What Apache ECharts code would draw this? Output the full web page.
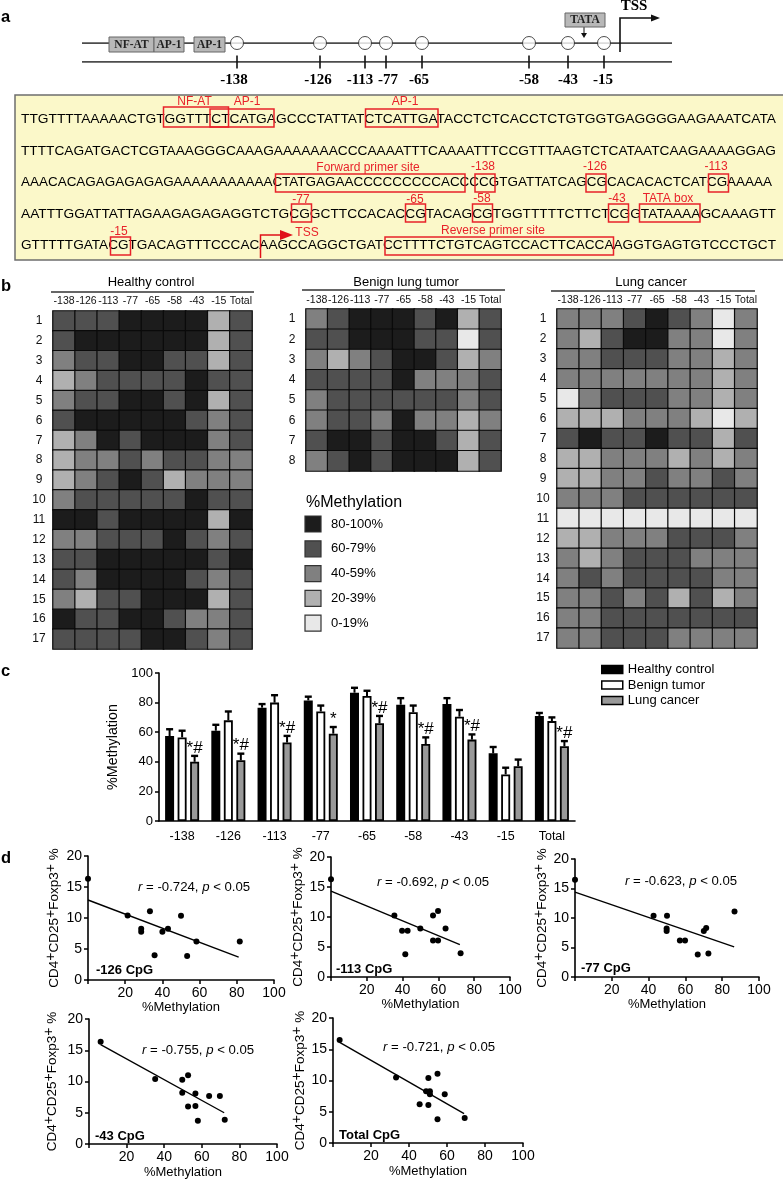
<!DOCTYPE html>
<html><head><meta charset="utf-8">
<style>html,body{margin:0;padding:0;background:#fff}#c{width:783px;height:1180px}</style>
<script src="https://cdn.jsdelivr.net/npm/echarts@6/dist/echarts.min.js"></script></head>
<body><div id="c"></div>
<script>
const SANS='"Liberation Sans",Arial,sans-serif', SERIF='"Liberation Serif",serif';
// ---------- panel a
const seqLines=[
'TTGTTTTAAAAACTGTGGTTTCTCATGAGCCCTATTATCTCATTGATACCTCTCACCTCTGTGGTGAGGGGAAGAAATCATA',
'TTTTCAGATGACTCGTAAAGGGCAAAGAAAAAAACCCAAAATTTCAAAATTTCCGTTTAAGTCTCATAATCAAGAAAAGGAG',
'AAACACAGAGAGAGAGAAAAAAAAAAACTATGAGAACCCCCCCCCACCCCGTGATTATCAGCGCACACACTCATCGAAAAA',
'AATTTGGATTATTAGAAGAGAGAGGTCTGCGGCTTCCACACCGTACAGCGTGGTTTTTCTTCTCGGTATAAAAGCAAAGTT',
'GTTTTTGATACGTGACAGTTTCCCACAAGCCAGGCTGATCCTTTTCTGTCAGTCCACTTCACCAAGGTGAGTGTCCCTGCT'];
const sitePos=[237,320,365,386,422,529,568,604];
const siteNames=['-138','-126','-113','-77','-65','-58','-43','-15'];
const siteLabelX=[234,318,360,388,419,529,568,603];
const redBoxes=[[163.5,107,65,20],[210,109,64,18],[365.5,109,72.5,18],[275.5,174,189.5,18],[475,174,20,18],[586,174,20,18],[708.5,174,20,18],
 [291.5,204,20,18],[405.5,204,20,18],[472.5,204,20,18],[608.5,204,20,18],[639.5,204,60.5,18],[110.5,237,20,18],[385,237,228.5,18]];
const redLabels=[['NF-AT',194.5,102],['AP-1',247,102],['AP-1',405,102],['Forward primer site',368,168],['-138',483,167],['-126',595,167],['-113',716,167],
 ['-77',301,200],['-65',415,200],['-58',482,199],['-43',617,199],['TATA box',668,199],['-15',119,232],['TSS',307,233],['Reverse primer site',493,231]];
// ---------- panel b
const cpgCols=['-138','-126','-113','-77','-65','-58','-43','-15','Total'];
const healthy=[
[70,70,70,90,90,90,90,30,70],[70,90,90,90,90,90,90,30,70],[50,70,70,90,90,70,70,30,70],[30,50,70,70,70,70,90,70,70],
[50,70,70,90,90,70,90,30,70],[70,90,90,90,90,90,70,50,70],[30,50,90,70,90,90,90,50,70],[30,50,50,70,50,70,70,50,50],
[30,50,70,90,70,30,50,50,50],[50,70,70,70,70,70,90,70,70],[90,90,70,90,90,90,90,30,90],[50,50,70,70,70,90,70,50,70],
[70,70,90,90,90,90,90,70,90],[70,50,90,90,90,90,70,50,70],[50,30,70,70,90,90,90,30,70],[90,70,70,90,90,70,50,50,70],
[70,70,70,70,90,90,70,50,70]];
const benign=[
[50,70,90,90,90,70,90,30,70],[70,70,90,90,90,70,70,10,70],[50,30,50,70,90,90,70,30,50],[70,70,70,70,90,50,50,50,70],
[50,70,70,70,70,70,70,50,70],[50,70,70,50,90,50,50,30,50],[70,90,90,70,90,90,70,30,70],[50,70,90,70,90,90,90,30,70]];
const cancer=[
[50,50,50,70,90,70,50,10,50],[50,30,70,90,90,50,50,10,50],[50,50,70,70,70,50,50,30,50],[50,50,50,50,50,50,50,30,50],
[10,50,70,70,70,50,50,30,50],[30,30,30,50,50,50,30,10,30],[70,90,70,70,90,70,70,30,70],[30,30,50,50,50,30,50,30,50],
[30,30,50,50,70,50,50,70,50],[50,50,50,70,70,70,70,70,70],[10,10,10,10,10,10,10,10,10],[30,30,50,50,50,70,70,70,50],
[50,30,50,70,70,70,50,50,50],[50,70,50,70,70,70,70,50,50],[50,50,70,50,70,30,70,30,50],[50,50,70,70,70,70,70,70,70],
[50,50,70,70,70,50,50,50,50]];
const legendLabels=['80-100%','60-79%','40-59%','20-39%','0-19%'];
const legendColors=['#1c1c1c','#505050','#808080','#b0b0b0','#e8e8e8'];
// ---------- panel c
const barHealthy=[57.4,61,76.6,81.5,86.7,78.6,79,45.7,71];
const errHealthy=[62,65,79,84,90,83,83,50,73];
const barBenign=[56.5,68,80,74,84.5,73.5,70.5,31.5,67.5];
const errBenign=[61,74,85,78,88,78,75,36,70];
const barCancer=[40,41,53,59,66,52,55,37,50.5];
const errCancer=[44,45.5,57.5,63.5,71,56.5,58.5,41.5,54];
const sig=['*#','*#','*#','*','*#','*#','*#','','*#'];
// ---------- panel d
const sc126=[[0,16.35],[21.3,10.4],[33.3,11.1],[50,10.35],[28.6,8.26],[28.6,7.8],[40,7.8],[43,8.26],[58.3,6.2],[81.6,6.2],[35.8,4],[53.3,3.86]];
const fit126=[[0,12.9],[81,3.7]];
const sc113=[[0,16.3],[35.4,10.25],[57,10.25],[59.8,11],[39.7,7.7],[42.8,7.7],[49.9,8.1],[64,8.1],[57,6.1],[59.8,6.1],[41.5,3.8],[72.4,3.96]];
const fit113=[[0,14.3],[72,5.4]];
const sc77=[[0,16.5],[42.7,10.4],[50,10.4],[86.7,11.1],[49.8,8.2],[49.8,7.8],[70,7.8],[71.3,8.3],[57,6.2],[59.8,6.2],[66.7,3.8],[72.5,4]];
const fit77=[[0,14.4],[86.5,5.1]];
const sc43=[[6.2,16.36],[35.2,10.4],[49.6,10.3],[52.7,11],[49.6,8.2],[56.6,8.1],[63.9,7.7],[69.6,7.7],[52.7,6],[56.6,6.1],[57.9,3.74],[72.2,3.9]];
const fit43=[[6.2,15.9],[71.9,5]];
const scTot=[[3.5,16.5],[33.2,10.5],[50.2,10.4],[55,11.1],[49,8.3],[51,8.3],[51,7.8],[58.8,7.8],[45.6,6.2],[50.2,6.1],[55,3.8],[69.3,4]];
const fitTot=[[3.5,16.1],[69,4.7]];

const grid=[],xAxis=[],yAxis=[],series=[],graphic=[];
const T=(text,x,y,o={})=>graphic.push({type:'text',x,y,z:o.z||20,rotation:o.rot||0,style:Object.assign({text,fill:'#000',font:`${o.w||'normal'} ${o.s||12}px ${o.f||SANS}`,align:o.a||'center',verticalAlign:'middle'},o.st||{})});
const L=(x1,y1,x2,y2,c='#000',w=1,z=5)=>graphic.push({type:'line',z,shape:{x1,y1,x2,y2},style:{stroke:c,lineWidth:w}});
const R=(x,y,w,h,fill,stroke,lw=1,z=15)=>graphic.push({type:'rect',z,shape:{x,y,width:w,height:h},style:{fill,stroke,lineWidth:lw}});

// panel a – schematic drawn on a hidden position axis
grid.push({left:0,width:783,top:43,height:19});
xAxis.push({type:'value',gridIndex:0,min:0,max:783,show:false});
yAxis.push({type:'value',gridIndex:0,min:0,max:1,show:false});
const hid={xAxisIndex:0,yAxisIndex:0,silent:true,animation:false};
series.push(Object.assign({type:'line',data:[[82,1],[672,1]],symbol:'none',lineStyle:{color:'#111',width:1.6},z:2},hid));
series.push(Object.assign({type:'line',data:[[82,0],[672,0]],symbol:'none',lineStyle:{color:'#111',width:1.6},z:2},hid));
series.push(Object.assign({type:'scatter',data:sitePos.map(p=>[p,1]),symbolSize:13,itemStyle:{color:'#fff',borderColor:'#222',borderWidth:1},z:3},hid));
series.push(Object.assign({type:'scatter',data:sitePos.map(p=>[p,0]),symbol:'rect',symbolSize:[2,13],itemStyle:{color:'#111'},z:3},hid));
siteNames.forEach((n,i)=>T(n,siteLabelX[i],80,{f:SERIF,w:'bold',s:15}));
[[109,37,45,15,'NF-AT'],[154,37,30,15,'AP-1'],[194,37,31,15,'AP-1'],[565,13,40,14,'TATA']].forEach(b=>{
  R(b[0],b[1],b[2],b[3],'#b8b8b8','#666',1);
  T(b[4],b[0]+b[2]/2,b[1]+b[3]/2+.5,{f:SERIF,w:'bold',s:11.5,st:{fill:'#222'}});
});
L(584,27,584,34,'#111',1);
graphic.push({type:'polygon',z:15,shape:{points:[[581,33],[587,33],[584,38]]},style:{fill:'#111'}});
graphic.push({type:'polyline',z:15,shape:{points:[[620,52],[620,18],[652,18]]},style:{stroke:'#111',lineWidth:1.6,fill:null}});
graphic.push({type:'polygon',z:15,shape:{points:[[651,14.5],[660,18],[651,21.5]]},style:{fill:'#111'}});
T('TSS',634,6,{f:SERIF,w:'bold',s:15});
R(15,95,769,165,'#fbf8c9','#6e6e6e',1.5,1);
const mctx=document.createElement('canvas').getContext('2d');
mctx.font='13px "Liberation Sans"';
[119,151,182,214,245].forEach((y,i)=>{
  const target=i==2?751:755;
  const sx=target/mctx.measureText(seqLines[i]).width;
  graphic.push({type:'text',x:21,y,scaleX:sx,z:10,style:{text:seqLines[i],fill:'#000',font:'13px "Liberation Sans"',align:'left',verticalAlign:'middle'}});
});
redBoxes.forEach(b=>R(b[0],b[1],b[2],b[3],null,'#e8222a',1.5,12));
redLabels.forEach(l=>T(l[0],l[1],l[2],{s:12,st:{fill:'#e8222a'}}));
graphic.push({type:'polyline',z:15,shape:{points:[[260.5,258],[260.5,235],[283,235]]},style:{stroke:'#e01018',lineWidth:1.5,fill:null}});
graphic.push({type:'polygon',z:15,shape:{points:[[280,230],[293,235],[280,240]]},style:{fill:'#e01018'}});

// panel labels
[['a',1,17],['b',1,286],['c',1,671],['d',1,858]].forEach(p=>T(p[0],p[1],p[2],{w:'bold',s:16.5,a:'left'}));

// panel b – heatmaps
const heatSeries=[];
function heat(title,tx,rows,left,top,w,h,lineX1,lineX2,lineY,labelM){
  const gi=grid.length;
  grid.push({left,top,width:w,height:h});
  xAxis.push({type:'category',gridIndex:gi,position:'top',data:cpgCols,axisLine:{show:false},axisTick:{show:false},splitLine:{show:false},
    axisLabel:{fontFamily:SANS,fontSize:10.5,color:'#111',margin:labelM,interval:0}});
  yAxis.push({type:'category',gridIndex:gi,inverse:true,data:rows.map((_,i)=>String(i+1)),axisLine:{show:false},axisTick:{show:false},splitLine:{show:false},
    axisLabel:{fontFamily:SANS,fontSize:12,color:'#111',margin:14,align:'center',interval:0}});
  const data=[];rows.forEach((r,i)=>r.forEach((v,j)=>data.push([j,i,v])));
  heatSeries.push(series.length);
  series.push({type:'heatmap',name:title,xAxisIndex:gi,yAxisIndex:gi,data,itemStyle:{borderColor:'#0a0a0a',borderWidth:1.2},animation:false,silent:true});
  T(title,tx,282,{s:13});
  L(lineX1,lineY,lineX2,lineY,'#333',1.5);
}
heat('Healthy control',151,healthy,53,311,199,338,51,254,292,4);
heat('Benign lung tumor',406,benign,306,309,195,162,302,505,290,3);
heat('Lung cancer',651,cancer,557,309,200,339,551,755,291,3);
T('%Methylation',306,503,{s:16,a:'left'});
legendLabels.forEach((l,i)=>{
  const y=524+i*24.8;
  R(305,y-8,16,16,legendColors[i],'#333',1.2);
  T(l,331,y,{s:13,a:'left'});
});

// panel c – bars
const gc=grid.length;
grid.push({left:159,top:673,width:416,height:148});
xAxis.push({type:'category',gridIndex:gc,data:cpgCols,axisLine:{lineStyle:{color:'#000',width:1.6}},axisTick:{alignWithLabel:true,length:4,lineStyle:{color:'#000',width:1.5}},
  axisLabel:{fontFamily:SANS,fontSize:12.5,color:'#000',margin:9,interval:0}});
yAxis.push({type:'value',gridIndex:gc,min:0,max:100,interval:20,name:'%Methylation',nameLocation:'middle',nameGap:38,nameTextStyle:{fontFamily:SANS,fontSize:14.3,color:'#000'},
  axisLine:{show:true,lineStyle:{color:'#000',width:1.6}},axisTick:{show:true,length:4,lineStyle:{color:'#000',width:1.5}},splitLine:{show:false},
  axisLabel:{fontFamily:SANS,fontSize:13,color:'#000',margin:6}});
const barDefs=[['Healthy control',barHealthy,errHealthy,'#000'],['Benign tumor',barBenign,errBenign,'#fff'],['Lung cancer',barCancer,errCancer,'#999']];
barDefs.forEach(d=>series.push({type:'bar',name:d[0],xAxisIndex:gc,yAxisIndex:gc,data:d[1],barWidth:9,barGap:'39%',animation:false,itemStyle:{color:d[3],borderColor:'#000',borderWidth:1.8}}));
barDefs.forEach((d,si)=>series.push({type:'custom',xAxisIndex:gc,yAxisIndex:gc,animation:false,silent:true,z:3,
  data:d[1].map((v,i)=>[i,v,d[2][i]]),
  renderItem(params,api){
    const i=api.value(0), base=api.coord([i,api.value(1)]), top=api.coord([i,api.value(2)]);
    const x=base[0]+(si-1)*12.5;
    const kids=[
      {type:'line',shape:{x1:x,y1:base[1],x2:x,y2:top[1]},style:{stroke:'#000',lineWidth:2}},
      {type:'line',shape:{x1:x-3.5,y1:top[1],x2:x+3.5,y2:top[1]},style:{stroke:'#000',lineWidth:2.4}}];
    if(si===2&&sig[i]) kids.push({type:'text',x:x,y:top[1]-8,style:{text:sig[i],font:'17px "Liberation Sans"',fill:'#000',align:'center',verticalAlign:'middle'}});
    return {type:'group',children:kids};
  }}));

// panel d – scatter
const yName='{n|CD4}{s|+}{n|CD25}{s|+}{n|Foxp3}{s|+}{n| %}';
function scat(pts,fit,left,top,w,h,gap,rx,ry,rLead,tag,tagX,tagY,xGap){
  const gi=grid.length;
  grid.push({left,top,width:w,height:h});
  xAxis.push({type:'value',gridIndex:gi,min:0,max:100,interval:20,name:'%Methylation',nameLocation:'middle',nameGap:xGap,
    nameTextStyle:{fontFamily:SANS,fontSize:13,color:'#000'},splitLine:{show:false},
    axisLine:{lineStyle:{color:'#000',width:1.6},onZero:false},axisTick:{length:4,lineStyle:{color:'#000',width:1.5}},
    axisLabel:{fontFamily:SANS,fontSize:14,color:'#000',margin:6,formatter:v=>v===0?'':String(v)}});
  yAxis.push({type:'value',gridIndex:gi,min:0,max:20,interval:5,name:yName,nameLocation:'middle',nameGap:gap,nameRotate:90,
    nameTextStyle:{rich:{n:{fontFamily:SANS,fontSize:13.5,color:'#000'},s:{fontFamily:SANS,fontSize:14,color:'#000',padding:[0,0,7,0]}}},splitLine:{show:false},
    axisLine:{show:true,lineStyle:{color:'#000',width:1.6},onZero:false},axisTick:{show:true,length:4,lineStyle:{color:'#000',width:1.5}},
    axisLabel:{fontFamily:SANS,fontSize:14,color:'#000',margin:6}});
  series.push({type:'line',xAxisIndex:gi,yAxisIndex:gi,data:fit,symbol:'none',lineStyle:{color:'#000',width:1.4},animation:false,silent:true});
  series.push({type:'scatter',xAxisIndex:gi,yAxisIndex:gi,data:pts,symbolSize:6,itemStyle:{color:'#000',opacity:1},animation:false,silent:true,clip:false});
  graphic.push({type:'text',x:rx,y:ry,z:20,style:{rich:{i:{font:'italic 13.2px "Liberation Sans"',fill:'#000'},t:{font:'13.2px "Liberation Sans"',fill:'#000'}},
    text:`{i|r}{t| = ${rLead}, }{i|p}{t| < 0.05}`,align:'left',verticalAlign:'middle'}});
  T(tag,tagX,tagY,{w:'bold',s:13,a:'left'});
}
scat(sc126,fit126,88,856,186,124,23,138,887,'-0.724','-126 CpG',96,970,21);
scat(sc113,fit113,331,857,179,120,22,377,882,'-0.692','-113 CpG',336,969,21);
scat(sc77,fit77,575,859,184,118,22,625,881,'-0.623','-77 CpG',581,968,21);
scat(sc43,fit43,89,1019,188,125,26,142,1050,'-0.755','-43 CpG',95,1136,22);
scat(scTot,fitTot,333,1018,190,125,21,383,1047,'-0.721','Total CpG',339,1135,22);

const chart=echarts.init(document.getElementById('c'),null,{renderer:'canvas'});
chart.setOption({
  animation:false,backgroundColor:'#fff',textStyle:{fontFamily:SANS},
  grid,xAxis,yAxis,series,
  legend:{show:true,orient:'vertical',left:601,top:663,padding:0,itemWidth:21,itemHeight:8,itemGap:2.5,selectedMode:false,
    data:barDefs.map(d=>({name:d[0],icon:'rect',itemStyle:{color:d[3],borderColor:'#000',borderWidth:1.5}})),
    textStyle:{fontFamily:SANS,fontSize:13,color:'#000'}},
  visualMap:{type:'piecewise',show:false,seriesIndex:heatSeries,
    pieces:[{min:80,max:100,color:legendColors[0]},{min:60,max:79.9,color:legendColors[1]},{min:40,max:59.9,color:legendColors[2]},{min:20,max:39.9,color:legendColors[3]},{min:0,max:19.9,color:legendColors[4]}]},
  graphic:{elements:graphic}
});
</script></body></html>
